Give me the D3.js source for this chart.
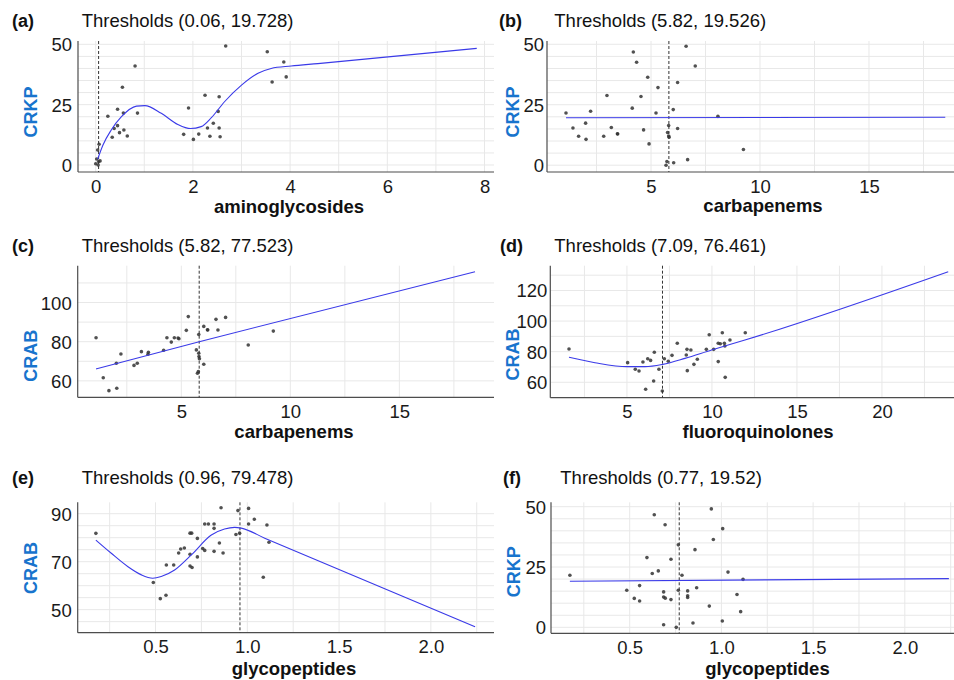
<!DOCTYPE html>
<html>
<head>
<meta charset="utf-8">
<script src="https://cdn.jsdelivr.net/npm/d3@7"></script>
<style>
  html, body { margin: 0; padding: 0; background: #fff; }
  svg { display: block; }
  text { font-family: "Liberation Sans", Arial, Helvetica, sans-serif; }
</style>
</head>
<body>
<svg id="chart" width="954" height="680"></svg>
<script>
// ---------------- DATA ----------------
// (a) CRKP vs aminoglycosides
const aX = [2.675,3.53,3.87,3.92,3.63,0.81,0.55,2.25,2.54,1.91,2.52,0.45,0.57,0.86,0.25,2.42,0.45,0.38,2.30,2.54,0.58,0.49,1.81,2.12,0.65,0.34,2.35,2.56,2.01,0.04,0.07,0.06,0.09,0.05,0.00,0.02];
const aY = [49.3,46.9,42.7,36.5,34.4,41.0,32.2,28.9,28.3,23.6,22.2,23.1,21.5,21.5,20.2,17.3,16.3,15.1,15.3,15.3,14.5,13.4,12.7,12.8,12.0,11.5,11.9,11.7,10.6,6.2,8.6,1.4,1.7,0.0,0.5,2.5];
const aFitX = [0.04,0.15,0.32,0.53,0.84,1.01,1.35,1.69,1.95,2.17,2.38,2.65,3.0,3.34,3.61,4.02,4.57,7.84];
const aFitY = [2.4,8.3,14.5,20.0,24.4,24.6,21.4,16.8,15.1,15.9,19.6,26.2,33.1,38.0,40.0,41.0,42.0,48.3];

// (b) CRKP vs carbapenems
const bX = [6.61,4.19,4.34,7.03,4.85,6.22,5.32,2.98,4.54,4.14,6.02,1.10,2.23,5.23,8.07,2.00,1.42,3.18,5.81,6.22,4.66,3.47,3.46,1.68,2.83,2.02,5.76,5.81,5.83,4.91,9.24,6.68,6.04,5.73,5.69];
const bY = [49.2,46.8,42.6,41.0,36.4,34.2,32.1,28.8,28.4,23.6,23.0,21.6,22.3,21.6,20.2,17.4,15.4,15.6,16.4,15.2,14.6,12.9,13.0,12.0,12.0,10.7,13.5,12.1,11.6,8.8,6.5,2.3,1.0,1.5,0.0];
const bFitX = [1.10,18.5];
const bFitY = [19.6,19.8];

// (c) CRAB vs carbapenems
const cX = [1.09,5.32,7.03,6.59,6.03,6.21,6.20,6.68,5.23,9.22,5.80,4.34,4.68,4.85,4.89,4.54,8.07,5.69,4.19,3.17,3.49,3.47,2.23,5.80,5.81,5.83,6.03,2.98,2.83,2.02,5.78,5.74,1.42,2.04,1.68];
const cY = [82.0,92.8,92.4,91.4,87.8,86.0,86.1,86.0,85.8,85.4,83.7,82.0,82.0,81.9,81.5,79.8,78.3,75.8,75.6,74.9,74.6,73.6,73.7,74.1,72.4,71.3,68.5,69.0,67.9,69.0,64.7,63.9,61.6,56.2,55.0];
const cFitX = [1.09,5.82,18.47];
const cFitY = [66.1,80.0,115.7];

// (d) CRAB vs fluoroquinolones
const dX = [1.59,9.84,10.61,11.96,11.06,7.96,10.37,10.49,10.73,10.76,9.67,10.10,8.53,8.76,6.61,7.65,8.49,6.22,6.39,7.20,7.43,5.94,5.04,9.14,10.37,8.94,5.49,5.71,6.88,8.55,6.57,10.78,6.10,7.08];
const dY = [81.7,91.1,92.4,92.4,87.6,85.5,85.5,85.2,85.5,83.7,81.5,81.5,81.5,81.1,79.6,77.6,77.8,75.4,74.3,75.4,73.7,73.2,72.8,75.0,73.5,71.7,68.5,67.4,68.5,67.6,60.8,63.2,55.4,54.3];
const dFitX = [1.59,3.12,5.02,6.06,7.10,8.41,9.98,11.94,23.9];
const dFitY = [76.3,72.8,70.2,70.2,71.7,75.6,81.1,87.6,132.3];

// (e) CRAB vs glycopeptides
const eX = [0.175,0.857,0.949,1.007,1.038,0.768,0.788,0.819,0.819,1.007,1.107,0.688,0.697,0.938,0.958,0.728,0.848,1.118,0.637,0.657,0.626,0.757,0.768,0.688,0.819,0.868,0.728,0.559,0.599,0.688,0.699,1.087,0.488,0.557,0.526];
const eY = [81.8,92.5,91.3,92.2,87.7,85.7,85.7,85.7,83.9,85.7,85.3,81.9,81.9,81.3,81.9,79.7,77.8,78.1,75.3,75.7,73.6,75.5,74.7,73.1,74.3,73.6,72.0,68.6,68.6,68.2,67.6,63.5,61.3,56.0,54.6];
const eFitX = [0.175,0.259,0.35,0.423,0.485,0.531,0.604,0.695,0.804,0.876,0.931,0.967,1.095,2.241];
const eFitY = [79.0,73.5,67.9,64.5,63.1,63.8,66.5,72.8,81.1,83.6,84.3,84.0,79.8,42.9];

// (f) CRKP vs glycopeptides
const fX = [0.945,0.634,0.693,1.007,0.956,0.765,0.856,0.594,0.725,0.656,0.623,1.036,0.785,0.174,1.118,0.554,0.865,0.484,0.765,0.816,0.685,1.085,0.816,0.816,0.685,0.694,0.525,0.554,0.725,0.934,1.105,1.005,0.845,0.685,0.754];
const fY = [49.1,46.7,42.5,40.9,36.4,34.2,32.2,28.9,28.2,23.4,22.3,22.9,21.6,21.6,19.9,17.3,16.4,15.4,15.4,15.1,14.7,13.6,13.1,12.4,12.6,12.1,12.0,10.9,11.5,8.8,6.5,2.6,1.8,1.1,0.0];
const fFitX = [0.174,2.24];
const fFitY = [19.1,20.2];

// Thresholds, titles, ticks
const tags = ["(a)","(b)","(c)","(d)","(e)","(f)"];
const thresholdX = [0.06,5.82,5.82,7.09,0.96,0.77];
const thresholdY = ["19.728","19.526","77.523","76.461","79.478","19.52"];
const xTitles = ["aminoglycosides","carbapenems","carbapenems","fluoroquinolones","glycopeptides","glycopeptides"];
const yTitles = ["CRKP","CRKP","CRAB","CRAB","CRAB","CRKP"];
const xTicksA = [0,2,4,6,8];
const xTicksCarb = [5,10,15];
const xTicksFq = [5,10,15,20];
const xTicksGly = [0.5,1.0,1.5,2.0];
const yTicksKP = [0,25,50];
const yTicksAB1 = [60,80,100];
const yTicksAB2 = [60,80,100,120];
const yTicksAB3 = [50,70,90];

// ---------------- LAYOUT ----------------
const panels = [
  {xs:aX, ys:aY, fx:aFitX, fy:aFitY, xT:xTicksA, yT:yTicksKP, xFmt:d3.format("d"),
   box:{l:78,r:494,t:41,b:172}, xDom:[-0.364,8.195], yDom:[-2.9,51.37],
   xGrid:[0,8,1], yGrid:[0,50,5], tagX:12, titleX:81.7, titleY:26.5, xLabX:289, xLabY:213, yLabX:36.5, yLabY:112, yGap:6},
  {xs:bX, ys:bY, fx:bFitX, fy:bFitY, xT:xTicksCarb, yT:yTicksKP, xFmt:d3.format("d"),
   box:{l:547,r:954,t:41,b:172}, xDom:[0.229,18.9], yDom:[-2.81,51.36],
   xGrid:[2.5,17.5,2.5], yGrid:[0,50,5], tagX:499, titleX:554.3, titleY:26.5, xLabX:763, xLabY:212, yLabX:518.5, yLabY:112, yGap:3},
  {xs:cX, ys:cY, fx:cFitX, fy:cFitY, xT:xTicksCarb, yT:yTicksAB1, xFmt:d3.format("d"),
   box:{l:77.7,r:494,t:265.7,b:397.3}, xDom:[0.248,19.34], yDom:[51.6,118.8],
   xGrid:[2.5,17.5,2.5], yGrid:[60,110,10], tagX:12, titleX:81.7, titleY:251.5, xLabX:294, xLabY:438.3, yLabX:36.5, yLabY:355.7, yGap:6},
  {xs:dX, ys:dY, fx:dFitX, fy:dFitY, xT:xTicksFq, yT:yTicksAB2, xFmt:d3.format("d"),
   box:{l:550.3,r:954,t:265.7,b:397.7}, xDom:[0.49,24.24], yDom:[49.9,136.2],
   xGrid:[2.5,22.5,2.5], yGrid:[60,130,10], tagX:500, titleX:554.3, titleY:251.5, xLabX:758, xLabY:438.3, yLabX:518.5, yLabY:354.5, yGap:3},
  {xs:eX, ys:eY, fx:eFitX, fy:eFitY, xT:xTicksGly, yT:yTicksAB3, xFmt:d3.format(".1f"),
   box:{l:77.7,r:494,t:502.3,b:632.7}, xDom:[0.076,2.344], yDom:[40.4,94.75],
   xGrid:[0.25,2.25,0.25], yGrid:[45,90,5], tagX:12, titleX:81.7, titleY:484, xLabX:294, xLabY:675, yLabX:37, yLabY:568, yGap:6},
  {xs:fX, ys:fY, fx:fFitX, fy:fFitY, xT:xTicksGly, yT:yTicksKP, xFmt:d3.format(".1f"),
   box:{l:551,r:954,t:502.3,b:633.3}, xDom:[0.071,2.268], yDom:[-2.47,51.83],
   xGrid:[0.25,2.25,0.25], yGrid:[0,50,5], tagX:503, titleX:560.3, titleY:484, xLabX:767.5, xLabY:675, yLabX:519.5, yLabY:571.7, yGap:5}
];

const svg = d3.select("#chart");
svg.append("rect").attr("width",954).attr("height",680).attr("fill","#fff");

panels.forEach((p, i) => {
  const x = d3.scaleLinear().domain(p.xDom).range([p.box.l, p.box.r]);
  const y = d3.scaleLinear().domain(p.yDom).range([p.box.b, p.box.t]);
  const g = svg.append("g");

  // grid
  const eps = 1e-9;
  const vg = d3.range(p.xGrid[0], p.xGrid[1] + eps, p.xGrid[2]);
  const hg = d3.range(p.yGrid[0], p.yGrid[1] + eps, p.yGrid[2]);
  g.append("g").selectAll("line").data(vg).join("line")
    .attr("x1", d => x(d)).attr("x2", d => x(d))
    .attr("y1", p.box.t).attr("y2", p.box.b)
    .attr("stroke", "#e8e8e8").attr("stroke-width", 1);
  g.append("g").selectAll("line").data(hg).join("line")
    .attr("x1", p.box.l).attr("x2", p.box.r)
    .attr("y1", d => y(d)).attr("y2", d => y(d))
    .attr("stroke", "#e8e8e8").attr("stroke-width", 1);

  // axes (lines only, no tick marks)
  const xa = d3.axisBottom(x).tickValues(p.xT).tickFormat(p.xFmt).tickSize(0).tickPadding(0);
  const ya = d3.axisLeft(y).tickValues(p.yT).tickFormat(d3.format("d")).tickSize(0).tickPadding(0);
  const gx = g.append("g").attr("transform", `translate(0,${p.box.b})`).call(xa);
  gx.select(".domain").remove();
  gx.selectAll("text").attr("font-size", 18.5).attr("fill", "#1a1a1a")
    .attr("dy", null).attr("y", 20.5).attr("dominant-baseline", "auto");
  const gy = g.append("g").attr("transform", `translate(${p.box.l},0)`).call(ya);
  gy.select(".domain").remove();
  gy.selectAll("text").attr("font-size", 18.5).attr("fill", "#1a1a1a")
    .attr("x", -p.yGap).attr("dy", "0.35em");

  g.append("line").attr("x1", p.box.l).attr("x2", p.box.r).attr("y1", p.box.b).attr("y2", p.box.b)
    .attr("stroke", "#4d4d4d").attr("stroke-width", 1.2);
  g.append("line").attr("x1", p.box.l).attr("x2", p.box.l).attr("y1", p.box.t).attr("y2", p.box.b)
    .attr("stroke", "#4d4d4d").attr("stroke-width", 1.2);

  // threshold dashed line
  g.append("line")
    .attr("x1", x(thresholdX[i])).attr("x2", x(thresholdX[i]))
    .attr("y1", p.box.t).attr("y2", p.box.b)
    .attr("stroke", "#333").attr("stroke-width", 1).attr("stroke-dasharray", "3,2");

  // points
  g.append("g").selectAll("circle").data(p.xs.map((v, k) => [v, p.ys[k]])).join("circle")
    .attr("cx", d => x(d[0])).attr("cy", d => y(d[1])).attr("r", 1.8)
    .attr("fill", "#333").attr("fill-opacity", 0.85);

  // fitted line
  const fit = p.fx.map((v, k) => [v, p.fy[k]]);
  g.append("path").datum(fit)
    .attr("d", d3.line().x(d => x(d[0])).y(d => y(d[1])).curve(d3.curveMonotoneX))
    .attr("fill", "none").attr("stroke", "#3a3ae8").attr("stroke-width", 1.1);

  // titles
  g.append("text").attr("x", p.tagX).attr("y", p.titleY).attr("font-size", 18)
    .attr("font-weight", "bold").attr("fill", "#111").text(tags[i]);
  g.append("text").attr("x", p.titleX).attr("y", p.titleY).attr("font-size", 18.5)
    .attr("fill", "#111").text(`Thresholds (${thresholdX[i]}, ${thresholdY[i]})`);
  g.append("text").attr("x", p.xLabX).attr("y", p.xLabY).attr("font-size", 18.5)
    .attr("font-weight", "bold").attr("text-anchor", "middle").attr("fill", "#111").text(xTitles[i]);
  g.append("text").attr("transform", `translate(${p.yLabX},${p.yLabY}) rotate(-90)`)
    .attr("font-size", 18).attr("font-weight", "bold").attr("text-anchor", "middle")
    .attr("fill", "#1874CD").text(yTitles[i]);
});
</script>
</body>
</html>
